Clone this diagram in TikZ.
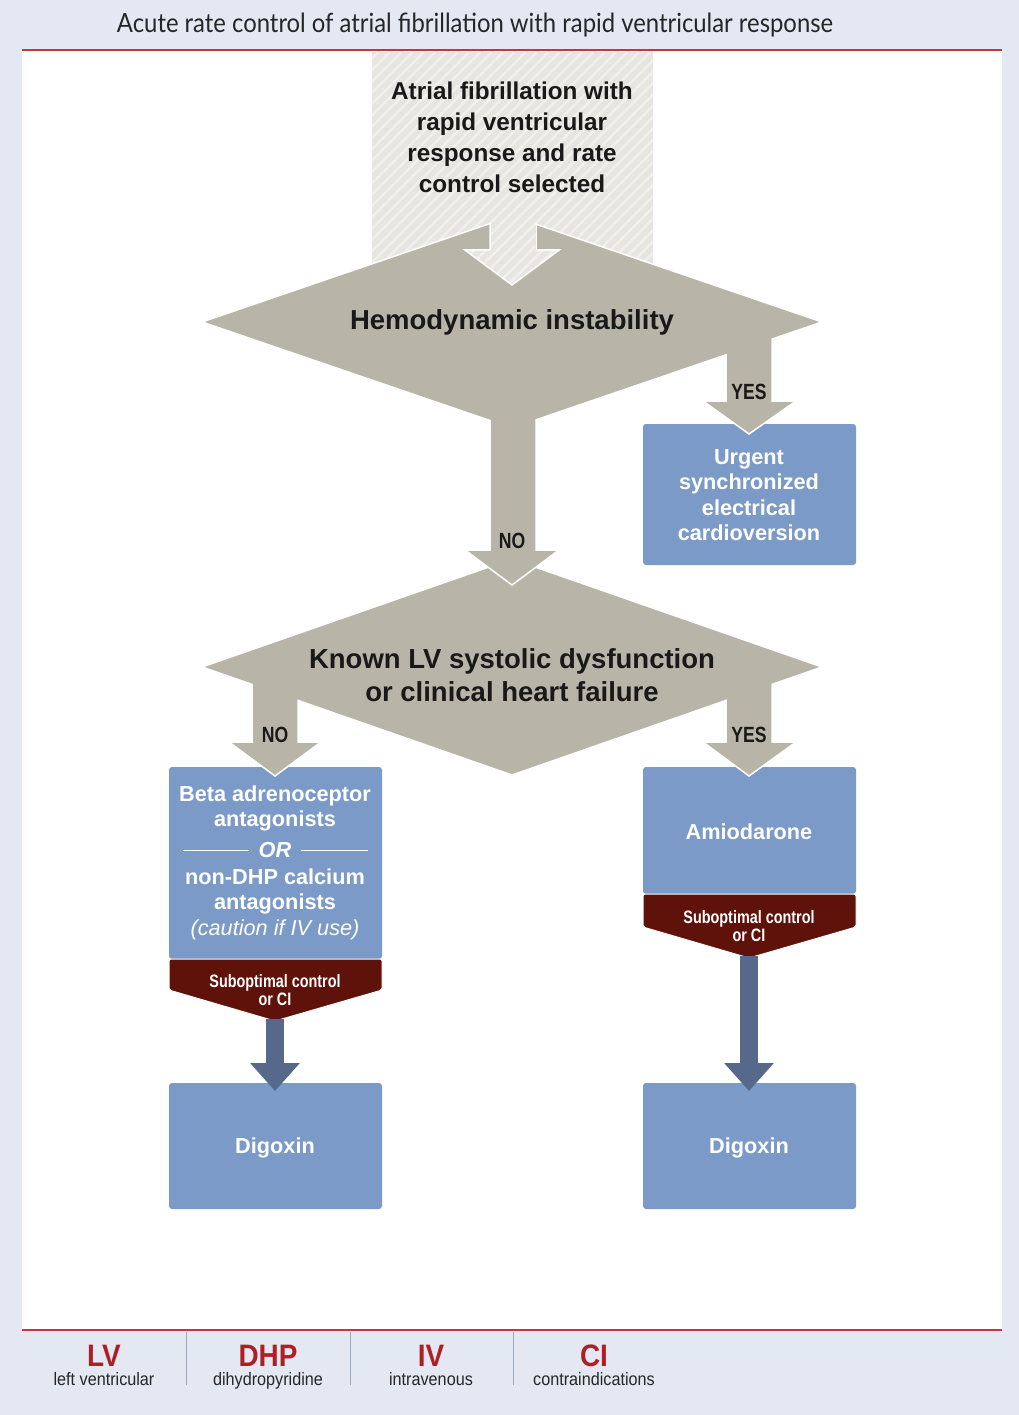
\documentclass[tikz,border=0pt]{standalone}
\usepackage{fontspec}
\setmainfont{Liberation Sans}
\newfontfamily\narrowfont[FakeStretch=0.8]{Liberation Sans}
\newfontfamily\footfont[FakeStretch=0.9]{Liberation Sans}
\newfontfamily\titlefont[FakeStretch=0.9]{Lato}
\usetikzlibrary{arrows.meta,patterns.meta}

\definecolor{pagebg}{HTML}{E4E8F3}
\definecolor{rulered}{HTML}{C0393E}
\definecolor{decgray}{HTML}{B8B4A8}
\definecolor{hatchbg}{HTML}{E7E5DF}
\definecolor{hatchline}{HTML}{F1F0EC}
\definecolor{actblue}{HTML}{7B9AC7}
\definecolor{warnred}{HTML}{5E1209}
\definecolor{flowblue}{HTML}{56698A}
\definecolor{abbrred}{HTML}{B01E25}
\definecolor{sepblue}{HTML}{9AA8BE}

\begin{document}
\begin{tikzpicture}[
    x=1pt, y=-1pt,
    decision/.style={fill=decgray, draw=white, line width=1.5pt, line join=miter},
    entry/.style={preaction={fill=hatchbg},
                  pattern={Lines[angle=45,distance=8pt,line width=2.5pt]},
                  pattern color=hatchline},
    action/.style={fill=actblue, rounded corners=3pt},
    banner/.style={fill=warnred, draw=white, line width=1pt, rounded corners=2pt},
    flow/.style={flowblue, line width=18pt,
                 -{Triangle[width=48pt, length=28pt]}},
    qtxt/.style={align=center, text=black!90,
                 font=\bfseries\fontsize{27.5}{33}\selectfont},
    atxt/.style={align=center, text=white,
                 font=\bfseries\fontsize{21.7}{25.5}\selectfont},
    btxt/.style={align=center, text=white,
                 font=\narrowfont\bfseries\fontsize{18}{18}\selectfont},
    ans/.style={text=black!90, font=\narrowfont\bfseries\fontsize{22}{22}\selectfont},
    abbr/.style={anchor=base, inner sep=0pt, text=abbrred,
                 font=\footfont\bfseries\fontsize{31}{31}\selectfont},
    expl/.style={anchor=base, inner sep=0pt, text=black!85,
                 font=\footfont\fontsize{18}{18}\selectfont}
]

% ---------- page ----------
\fill[pagebg] (0,0) rectangle (1019,1415);
\fill[white] (22,50) rectangle (1002,1330);
\draw[rulered, line width=1.5pt] (22,50) -- (1002,50);
\draw[rulered, line width=1.5pt] (22,1330) -- (1002,1330);
\node[font=\titlefont\fontsize{26.5}{26.5}\selectfont, text=black!85] (title) at (475,25)
  {Acute rate control of atrial fibrillation with rapid ventricular response};

% ---------- starting point ----------
\path[entry] (372,52) rectangle (653,265);
\node[qtxt, font=\bfseries\fontsize{24.3}{31}\selectfont] (start) at (512,137)
  {Atrial fibrillation with\\rapid ventricular\\response and rate\\control selected};

% ---------- action boxes ----------
\fill[action] (643,424) rectangle (856,565);
\fill[action] (169,767) rectangle (382,959);
\fill[action] (643,767) rectangle (856,894);
\fill[action] (169,1083) rectangle (382,1209);
\fill[action] (643,1083) rectangle (856,1209);

% ---------- suboptimal banners ----------
\path[banner] (169,959) -- (382,959) -- (382,990) -- (275,1021) -- (169,990) -- cycle;
\path[banner] (643,894) -- (856,894) -- (856,927) -- (749,958) -- (643,927) -- cycle;
\coordinate (tipleft) at (275,1019);
\coordinate (tipright) at (749,956);

% ---------- decisions ----------
\path[decision] (202,667) -- (512,559) -- (822,667) -- (772,684.4) -- (772,742)
   -- (796,742) -- (749,776) -- (703,742) -- (726,742) -- (726,700.4) -- (512,775)
   -- (298,700.4) -- (298,742) -- (321,742) -- (275,776) -- (229,742) -- (252,742)
   -- (252,684.4) -- cycle;
\path[decision] (202,322) -- (512,216) -- (822,322) -- (772,339.1) -- (772,401)
   -- (796,401) -- (749,434) -- (703,401) -- (726,401) -- (726,354.8) -- (536,419.8)
   -- (536,550) -- (559,550) -- (512,585) -- (465,550) -- (490,550) -- (490,420.5)
   -- cycle;
% the arrow out of the start box keeps its hatching
\path[entry] (490.8,212) -- (490.8,250) -- (465,250) -- (512,285) -- (559,250)
  -- (535.2,250) -- (535.2,212) -- cycle;
\draw[white, line width=1.5pt, line join=miter]
  (490,223.5) -- (490,250) -- (465,250) -- (512,285) -- (559,250) -- (536,250)
  -- (536,224.2);

% ---------- texts ----------
\node[qtxt] (hemo) at (512,322) {Hemodynamic instability};
\node[qtxt] (known) at (512,675.5) {Known LV systolic dysfunction\\or clinical heart failure};
\node[ans] (yes1) at (749,392) {YES};
\node[ans] (no1) at (512,541) {NO};
\node[ans] (no2) at (275,735) {NO};
\node[ans] (yes2) at (749,735) {YES};

\node[atxt] (urgent) at (749,495)
  {Urgent\\synchronized\\electrical\\cardioversion};
\node[atxt] (beta) at (275,808.5) {Beta adrenoceptor\\antagonists};
\node[atxt, font=\bfseries\itshape\fontsize{21.7}{21.7}\selectfont] (orword) at (275,850) {OR};
\draw[white, line width=0.8pt] (183,850) -- ([xshift=-6pt]orword.west);
\draw[white, line width=0.8pt] ([xshift=6pt]orword.east) -- (368,850);
\node[atxt] (nondhp) at (275,904)
  {non-DHP calcium\\antagonists\\\textmd{\itshape(caution if IV use)}};
\node[atxt] (amio) at (749,832) {Amiodarone};
\node[btxt] (subleft) at (275,990) {Suboptimal control\\or CI};
\node[btxt] (subright) at (749,926) {Suboptimal control\\or CI};
\node[atxt] (digleft) at (275,1148) {Digoxin};
\node[atxt] (digright) at (749,1148) {Digoxin};

% ---------- flow to digoxin ----------
\draw[flow] (tipleft) -- (275,1091);
\draw[flow] (tipright) -- (749,1091);

% ---------- abbreviations ----------
\foreach \xs in {186,350,513}
  \draw[sepblue, line width=0.8pt] (\xs,1332) -- (\xs,1385);
\node[abbr] (lv) at (104,1366) {LV};
\node[expl] (lvx) at (104,1385) {left ventricular};
\node[abbr] (dhp) at (268,1366) {DHP};
\node[expl] (dhpx) at (268,1385) {dihydropyridine};
\node[abbr] (iv) at (431,1366) {IV};
\node[expl] (ivx) at (431,1385) {intravenous};
\node[abbr] (ci) at (594,1366) {CI};
\node[expl] (cix) at (594,1385) {contraindications};

\end{tikzpicture}
\end{document}
